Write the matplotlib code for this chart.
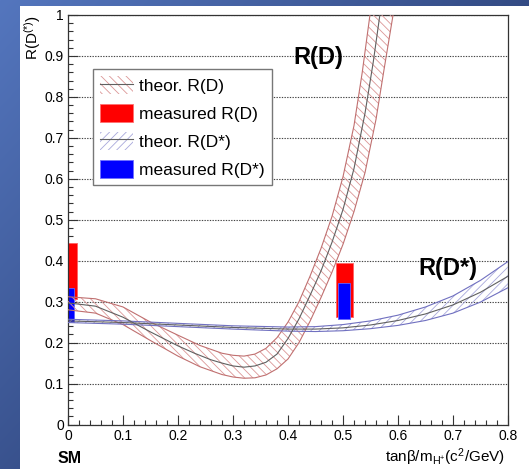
import numpy as np
import matplotlib
matplotlib.use('Agg')
import matplotlib.pyplot as plt
from matplotlib.patches import Patch
from matplotlib.lines import Line2D
from matplotlib.ticker import MultipleLocator, FuncFormatter

plt.rcParams['font.family'] = ['Liberation Sans', 'DejaVu Sans']
plt.rcParams['mathtext.fontset'] = 'custom'
plt.rcParams['mathtext.rm'] = 'Liberation Sans'
plt.rcParams['mathtext.it'] = 'Liberation Sans:italic'
plt.rcParams['mathtext.bf'] = 'Liberation Sans:bold'
plt.rcParams['hatch.linewidth'] = 0.6

# ---------------- data ----------------
# theoretical R(D): central curve and band edges
rd_x = [0.00, 0.05, 0.10, 0.15, 0.20, 0.23, 0.26, 0.28, 0.30, 0.32, 0.34, 0.36, 0.38, 0.40, 0.42,
        0.44, 0.46, 0.48, 0.50, 0.52, 0.54, 0.555, 0.567]
rd_c = [0.297, 0.289, 0.262, 0.226, 0.192, 0.174, 0.158, 0.150, 0.143, 0.140, 0.143, 0.152, 0.172,
        0.210, 0.258, 0.315, 0.375, 0.445, 0.525, 0.625, 0.760, 0.885, 1.000]
rd_up_x = [0.00, 0.05, 0.10, 0.15, 0.20, 0.24, 0.28, 0.30, 0.32, 0.34, 0.36, 0.38, 0.40, 0.42,
           0.44, 0.46, 0.48, 0.50, 0.52, 0.535, 0.549]
rd_up = [0.312, 0.307, 0.287, 0.250, 0.218, 0.193, 0.174, 0.169, 0.167, 0.172, 0.186, 0.212, 0.250,
         0.300, 0.362, 0.430, 0.508, 0.605, 0.730, 0.860, 1.000]
rd_lo_x = [0.00, 0.05, 0.10, 0.15, 0.20, 0.24, 0.28, 0.30, 0.32, 0.34, 0.36, 0.38, 0.40, 0.42,
           0.44, 0.46, 0.48, 0.50, 0.52, 0.54, 0.56, 0.575, 0.591]
rd_lo = [0.280, 0.272, 0.244, 0.205, 0.167, 0.141, 0.122, 0.116, 0.113, 0.114, 0.121, 0.136, 0.160,
         0.200, 0.252, 0.310, 0.372, 0.440, 0.520, 0.615, 0.745, 0.870, 1.000]

# theoretical R(D*)
rds_x = [0.0, 0.1, 0.2, 0.3, 0.4, 0.45, 0.5, 0.55, 0.6, 0.65, 0.7, 0.75, 0.8]
rds_c = [0.253, 0.249, 0.243, 0.237, 0.233, 0.233, 0.236, 0.243, 0.254, 0.270, 0.292, 0.323, 0.362]
rds_up = [0.257, 0.253, 0.247, 0.241, 0.238, 0.239, 0.244, 0.253, 0.267, 0.287, 0.314, 0.352, 0.398]
rds_lo = [0.249, 0.245, 0.239, 0.233, 0.228, 0.227, 0.229, 0.234, 0.242, 0.254, 0.272, 0.299, 0.334]

# measured values (boxes)
meas_x = [0.0, 0.502]
meas_rd_lo = [0.306, 0.263]
meas_rd_hi = [0.443, 0.395]
meas_rds_lo = [0.250, 0.258]
meas_rds_hi = [0.333, 0.345]

legend_labels = ['theor. R(D)', 'measured R(D)', 'theor. R(D*)', 'measured R(D*)']

# ---------------- figure ----------------
W, H = 529, 469
fig = plt.figure(figsize=(W / 100, H / 100), dpi=100)

# slide background: blue gradient with white panel
yy, xx = np.mgrid[0:H, 0:W]
t = np.clip(0.55 * xx / W + 0.45 * yy / H, 0, 1)[..., None]
light = np.array([84, 118, 190]) / 255
dark = np.array([25, 40, 85]) / 255
bg = light * (1 - t) + dark * t
bg[(xx >= 20) & (yy >= 6)] = 1.0
fig.figimage(bg, xo=0, yo=0, origin='upper', zorder=-1)

ax = fig.add_axes([68 / W, 1 - 424.5 / H, 440 / W, 409.5 / H])
ax.set_facecolor('white')
ax.set_xlim(0, 0.8)
ax.set_ylim(0, 1)

red_hatch = '#dc9696'
red_edge = '#c07070'
blue_hatch = '#a8a8dc'
blue_edge = '#7070c0'
center_col = '#606060'

# measured boxes
ax.bar(meas_x, np.subtract(meas_rd_hi, meas_rd_lo), bottom=meas_rd_lo, width=0.031,
       color='#ff0000', edgecolor='#ff6060', linewidth=0.6, zorder=2)
ax.bar(meas_x, np.subtract(meas_rds_hi, meas_rds_lo), bottom=meas_rds_lo, width=0.022,
       color='#0000ff', edgecolor='#6060ff', linewidth=0.6, zorder=2.1)

# R(D) band
poly_x = list(rd_up_x) + list(rd_lo_x[::-1])
poly_y = list(rd_up) + list(rd_lo[::-1])
ax.fill(poly_x, poly_y, facecolor='none', edgecolor=red_hatch, hatch='\\\\\\\\', linewidth=0, zorder=3)
ax.plot(rd_up_x, rd_up, color=red_edge, lw=0.8, zorder=3.1)
ax.plot(rd_lo_x, rd_lo, color=red_edge, lw=0.8, zorder=3.1)
ax.plot(rd_x, rd_c, color=center_col, lw=0.8, zorder=3.2)

# R(D*) band
ax.fill_between(rds_x, rds_lo, rds_up, facecolor='none', edgecolor=blue_hatch, hatch='////', linewidth=0, zorder=3)
ax.plot(rds_x, rds_up, color=blue_edge, lw=0.8, zorder=3.1)
ax.plot(rds_x, rds_lo, color=blue_edge, lw=0.8, zorder=3.1)
ax.plot(rds_x, rds_c, color=center_col, lw=0.8, zorder=3.2)

# axes styling
ax.set_axisbelow(True)
ax.yaxis.grid(True, linestyle=(0, (1.2, 1.2)), color='#444444', linewidth=0.8)
ax.xaxis.set_major_locator(MultipleLocator(0.1))
ax.xaxis.set_minor_locator(MultipleLocator(0.02))
ax.yaxis.set_major_locator(MultipleLocator(0.1))
ax.yaxis.set_minor_locator(MultipleLocator(0.02))
fmt = FuncFormatter(lambda v, p: '%d' % round(v) if abs(v - round(v)) < 1e-9 else '%.1f' % v)
ax.xaxis.set_major_formatter(fmt)
ax.yaxis.set_major_formatter(fmt)
ax.tick_params(which='major', direction='in', length=7.2, width=0.8, labelsize=10, pad=3,
               top=False, right=False, color='#333333')
ax.tick_params(which='minor', direction='in', length=3.6, width=0.8, top=False, right=False, color='#333333')
for s in ax.spines.values():
    s.set_linewidth(0.9)
    s.set_color('#333333')

# annotations
ax.text(0.4545, 0.897, 'R(D)', fontsize=17, fontweight='bold', ha='center', va='center', zorder=5)
ax.text(0.691, 0.382, 'R(D*)', fontsize=17, fontweight='bold', ha='center', va='center', zorder=5)

ax.text(-0.08, 1.0, r'R(D$^{\mathrm{(*)}}$)', rotation=90, ha='center', va='top',
        transform=ax.transAxes, fontsize=11)
fig.text(505 / W, 1 - 461.5 / H, r'tanβ/m$_{\mathrm{H^{+}}}$(c$^{2}$/GeV)', ha='right', va='baseline', fontsize=11)
fig.text(70 / W, 1 - 463 / H, 'SM', ha='center', va='baseline', fontsize=11.5, fontweight='bold')

# legend
h1 = (Patch(facecolor='none', edgecolor=red_hatch, hatch='\\\\\\\\', linewidth=0),
      Line2D([], [], color=center_col, lw=0.8))
h2 = Patch(facecolor='#ff0000', edgecolor='#ff7070', linewidth=0.6)
h3 = (Patch(facecolor='none', edgecolor=blue_hatch, hatch='////', linewidth=0),
      Line2D([], [], color=center_col, lw=0.8))
h4 = Patch(facecolor='#0000ff', edgecolor='#7070ff', linewidth=0.6)
leg = ax.legend([h1, h2, h3, h4], legend_labels, loc='upper left', bbox_to_anchor=(0.057, 0.868),
                fontsize=12.5, frameon=True, fancybox=False, edgecolor='#777777', framealpha=1,
                borderaxespad=0, handlelength=1.9, handleheight=1.25, labelspacing=0.55,
                handletextpad=0.35, borderpad=0.4)
leg.get_frame().set_linewidth(1.0)
leg.set_zorder(6)

fig.savefig('out.png', dpi=100)
